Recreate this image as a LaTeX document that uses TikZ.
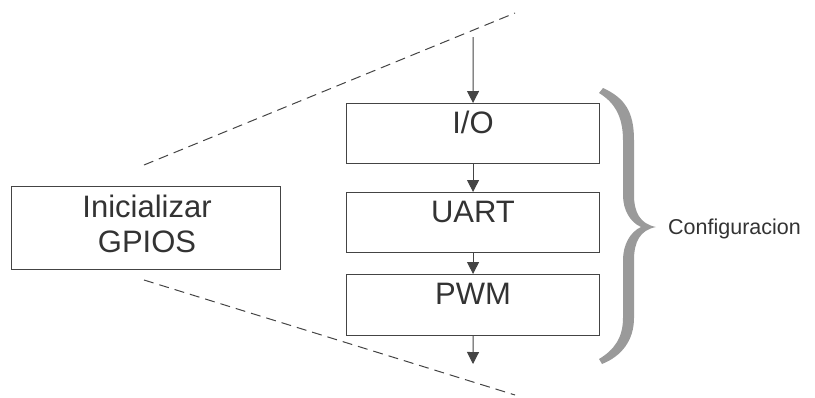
\documentclass[tikz,border=0pt]{standalone}
\usepackage{fontspec}
\setmainfont{Liberation Sans}
\usetikzlibrary{arrows.meta}
\definecolor{inkc}{HTML}{333333}
\definecolor{linec}{HTML}{444444}
\definecolor{bracec}{HTML}{9A9A9A}
\tikzset{
  box/.style={draw=linec, line width=1.1pt, inner sep=0pt, anchor=north west,
    minimum width=#1},
  box/.default=253pt,
  lbl/.style={text=inkc, anchor=base, inner sep=0pt, font=\fontsize{31}{35}\selectfont},
  flow/.style={draw=linec, line width=1pt, -{Triangle[width=12pt,length=12pt]}},
  guide/.style={draw=linec, line width=1pt, dash pattern=on 10pt off 6pt}
}
\begin{document}
\begin{tikzpicture}[x=1pt,y=-1pt]
\useasboundingbox (0,0) rectangle (815,397);
% left block
\node[box=269pt, minimum height=83pt] (gpio) at (11,186) {};
\node[lbl] (gpioa) at (147,217) {Inicializar};
\node[lbl] (gpiob) at (147,252) {GPIOS};
% configuration steps
\node[box, minimum height=60pt] (io) at (346,103) {};
\node[box, minimum height=60pt] (uart) at (346,192) {};
\node[box, minimum height=61pt] (pwm) at (346,274) {};
\node[lbl] (iot) at (473,133) {I/O};
\node[lbl] (uartt) at (473,222) {UART};
\node[lbl] (pwmt) at (473,304) {PWM};
% flow arrows
\coordinate (in) at (473,37);
\coordinate (out) at (473,364);
\draw[flow] (in) -- (io.north);
\draw[flow] (io.south) -- (uart.north);
\draw[flow] (uart.south) -- (pwm.north);
\draw[flow] (pwm.south) -- (out);
% zoom guides
\coordinate (g1) at (144,165);
\coordinate (g2) at (515,13);
\coordinate (g3) at (144,280);
\coordinate (g4) at (515,395);
\draw[guide] (g1) -- (g2);
\draw[guide] (g3) -- (g4);
% brace
\fill[bracec] (603,88) .. controls (625,98) and (634,112) .. (634,140) -- (634,195)
  .. controls (634,212) and (640,224) .. (656,227)
  .. controls (640,230) and (634,242) .. (634,260) -- (634,318)
  .. controls (634,340) and (622,356) .. (602,364) -- (599,359)
  .. controls (614,350) and (623,338) .. (623,318) -- (623,260)
  .. controls (623,245) and (630,232) .. (641,227)
  .. controls (630,222) and (623,210) .. (623,195) -- (623,140)
  .. controls (623,116) and (614,102) .. (599,93) -- cycle;
\node[text=inkc, anchor=base west, inner sep=0pt, font=\fontsize{21.5}{26}\selectfont] (cfg) at (668,234) {Configuracion};
\end{tikzpicture}
\end{document}
